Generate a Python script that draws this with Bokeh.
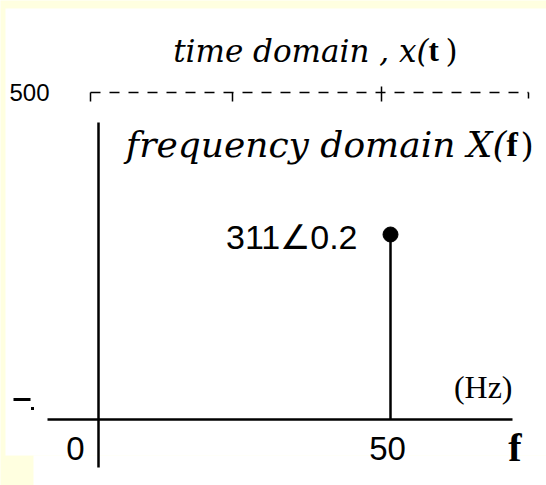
from bokeh.plotting import figure
from bokeh.models import Range1d
from bokeh.core.properties import value
from bokeh.embed import file_html
from bokeh.resources import INLINE

# Line spectrum of x(t): one component at 50 Hz, magnitude 311, phase 0.2 rad
freqs = [50]
mags = [311]
phases = [0.2]
phasor_labels = ["311\u22200.2"]

# frequency-axis tick values and labels
freq_ticks = [0, 50]
freq_tick_labels = ["0", "50"]

# clipped time-domain panel label
time_top_label = ["500"]

W, H = 546, 485
YELLOW = "#FFFFE0"
SANS = value("Liberation Sans")
SERIF = value("DejaVu Serif")
BOLD_SERIF = value("Liberation Serif")

# canvas placement of the frequency-domain origin and its scale
X0_PX, Y0_PX = 98, 419
XS = 292 / 50.0     # pixels per Hz
YS = 185 / 311.0    # pixels per amplitude unit


def px(x):
    """canvas x pixel -> data x"""
    return (x - X0_PX) / XS


def py(y):
    """canvas y pixel -> data y"""
    return (Y0_PX - y) / YS


p = figure(width=W, height=H,
           x_range=Range1d(px(0), px(W)), y_range=Range1d(py(H), py(0)),
           min_border=0, toolbar_location=None, output_backend="svg",
           x_axis_location=None, y_axis_location=None,
           background_fill_color=YELLOW, border_fill_color=YELLOW,
           outline_line_color=None)
p.xgrid.visible = False
p.ygrid.visible = False

# white drawing sheet (leaves a yellow margin and a small yellow notch bottom-left)
p.quad(left=[px(5), px(33)], right=[px(W), px(W)],
       top=[py(8), py(455)], bottom=[py(455), py(H)],
       fill_color="white", line_color=None)

# ---- remnant of the time-domain panel ----
p.line([px(90), px(528)], [py(92), py(92)], line_color="black",
       line_width=1.5, line_dash="10 9")
tick_x = [90, 232, 381, 528]
p.segment(x0=[px(x) for x in tick_x], y0=[py(92)] * 4,
          x1=[px(x) for x in tick_x], y1=[py(101), py(101), py(101), py(98)],
          line_color="black", line_width=1.5)
p.segment(x0=[px(381)], y0=[py(86)], x1=[px(381)], y1=[py(92)],
          line_color="black", line_width=1.5)
p.text(x=[px(9)], y=[py(92)], text=time_top_label, text_font=SANS,
       text_font_size="24px", text_align="left", text_baseline="middle",
       text_color="black")
# clipped "-500" label on the left edge
p.segment(x0=[px(13)], y0=[py(399)], x1=[px(30)], y1=[py(399)],
          line_color="black", line_width=3)
p.scatter(x=[px(32)], y=[py(408)], size=3, marker="square",
          fill_color="black", line_color=None)

p.text(x=[px(428)], y=[py(50)], text=["time domain , x("], text_font=SERIF,
       text_font_size="31px", text_font_style="italic", text_align="right",
       text_baseline="middle", text_color="black")
p.text(x=[px(428)], y=[py(50)], text=["t"], text_font=BOLD_SERIF,
       text_font_size="31px", text_font_style="bold", text_align="left",
       text_baseline="middle", text_color="black")
p.text(x=[px(445)], y=[py(50)], text=[")"], text_font=SERIF,
       text_font_size="31px", text_align="left",
       text_baseline="middle", text_color="black")

# ---- frequency-domain panel ----
p.text(x=[px(506)], y=[py(144)], text=["frequency domain X("], text_font=SERIF,
       text_font_size="36px", text_font_style="italic", text_align="right",
       text_baseline="middle", text_color="black")
p.text(x=[px(506)], y=[py(144)], text=["f"], text_font=BOLD_SERIF,
       text_font_size="34px", text_font_style="bold", text_align="left",
       text_baseline="middle", text_color="black")
p.text(x=[px(520)], y=[py(144)], text=[")"], text_font=SERIF,
       text_font_size="34px", text_align="left",
       text_baseline="middle", text_color="black")

# axes drawn through the origin
p.segment(x0=[px(47)], y0=[0], x1=[px(512)], y1=[0],
          line_color="black", line_width=2.5)
p.segment(x0=[0], y0=[py(122)], x1=[0], y1=[py(467)],
          line_color="black", line_width=2.5)

p.text(x=[px(512)], y=[py(386)], text=["(Hz)"], text_font=value("Liberation Serif"),
       text_font_size="32px", text_align="right", text_baseline="middle",
       text_color="black")
p.text(x=[px(521)], y=[py(447)], text=["f"], text_font=BOLD_SERIF,
       text_font_size="40px", text_font_style="bold", text_align="right",
       text_baseline="middle", text_color="black")

# frequency tick labels
p.text(x=freq_ticks[:1], y=[py(448)], text=freq_tick_labels[:1], text_font=SANS,
       text_font_size="33px", text_align="center", text_baseline="middle",
       x_offset=-23, text_color="black")
p.text(x=freq_ticks[1:], y=[py(448)], text=freq_tick_labels[1:], text_font=SANS,
       text_font_size="33px", text_align="center", text_baseline="middle",
       x_offset=-3, text_color="black")

# spectral line with its phasor label
p.segment(x0=freqs, y0=[0] * len(freqs), x1=freqs, y1=mags,
          line_color="black", line_width=2.5)
p.scatter(x=freqs, y=mags, size=15, marker="circle",
          fill_color="black", line_color="black")
p.text(x=freqs, y=mags, text=phasor_labels, text_font=SANS,
       text_font_size="34px", text_align="right", text_baseline="middle",
       x_offset=-33, y_offset=2, text_color="black")

open("out.html", "w").write(file_html(p, INLINE))
